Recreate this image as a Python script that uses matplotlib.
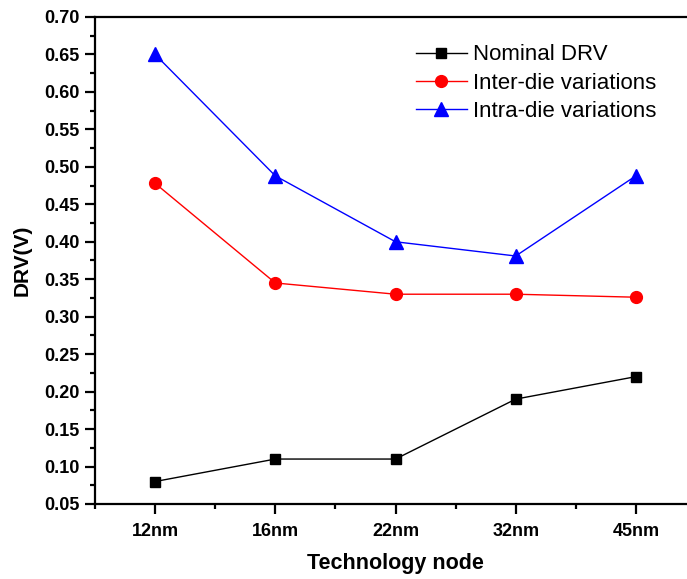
import matplotlib
matplotlib.use("Agg")
import matplotlib.pyplot as plt
from matplotlib.ticker import MultipleLocator

plt.rcParams['font.family'] = ['Liberation Sans', 'DejaVu Sans']

nodes = ['12nm', '16nm', '22nm', '32nm', '45nm']
nominal = [0.08, 0.11, 0.11, 0.19, 0.22]
inter_die = [0.478, 0.345, 0.330, 0.330, 0.326]
intra_die = [0.65, 0.488, 0.40, 0.381, 0.488]

fig = plt.figure(figsize=(6.87, 5.79), dpi=100)
# right side of the frame runs off the canvas
ax = fig.add_axes([95 / 687, 75 / 579, 601 / 687, 487 / 579])

x = list(range(1, len(nodes) + 1))
ax.plot(x, nominal, color='black', lw=1, marker='s', ms=7, label='Nominal DRV')
ax.plot(x, inter_die, color='red', lw=1, marker='o', ms=8.5, label='Inter-die variations')
ax.plot(x, intra_die, color='blue', lw=1, marker='^', ms=9.5, label='Intra-die variations')

ax.set_xlim(0.5, 5.5)
ax.set_ylim(0.05, 0.70)
ax.set_xticks(x)
ax.set_xticklabels(nodes)
ax.xaxis.set_minor_locator(MultipleLocator(0.5))
ax.yaxis.set_major_locator(MultipleLocator(0.05))
ax.yaxis.set_minor_locator(MultipleLocator(0.025))
ax.yaxis.set_major_formatter(plt.FormatStrFormatter('%.2f'))

for s in ax.spines.values():
    s.set_linewidth(1.6)
ax.tick_params(which='major', direction='out', length=7, width=1.6, labelsize=13)
ax.tick_params(which='minor', direction='out', length=3.5, width=1.6)
ax.tick_params(axis='x', which='major', pad=7)
ax.tick_params(axis='y', which='major', pad=4)
for lab in ax.get_xticklabels() + ax.get_yticklabels():
    lab.set_fontweight('bold')

ax.set_xlabel('Technology node', fontsize=15.5, fontweight='bold', labelpad=9)
ax.set_ylabel('DRV(V)', fontsize=15, fontweight='bold', labelpad=9)

ax.legend(loc='upper left', bbox_to_anchor=(0.50, 0.985), frameon=False,
          fontsize=16, handlelength=2.3, handletextpad=0.3, labelspacing=0.33,
          borderaxespad=0.5)

fig.savefig('out.png', dpi=100)
